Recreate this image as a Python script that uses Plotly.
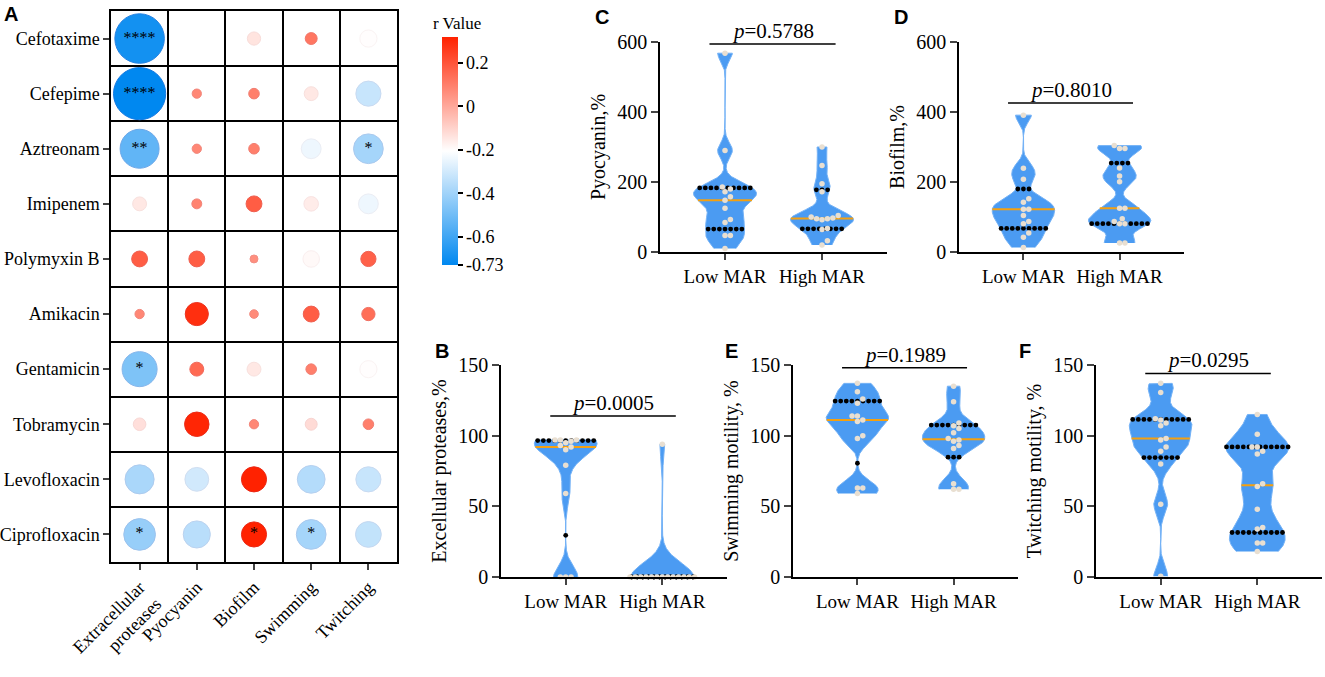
import numpy as np
import plotly.graph_objects as go

# ---------------------------------------------------------
# Panel A: correlation between antibiotics and virulence traits
# ---------------------------------------------------------
antibiotics = ["Cefotaxime", "Cefepime", "Aztreonam", "Imipenem", "Polymyxin B",
               "Amikacin", "Gentamicin", "Tobramycin", "Levofloxacin", "Ciprofloxacin"]
traits = ["Extracellular<br>proteases", "Pyocyanin", "Biofilm", "Swimming", "Twitching"]

# r values, one row per antibiotic (None = no value)
r_values = [
    [-0.69, None, -0.14, 0.12, -0.20],
    [-0.73, 0.08, 0.10, -0.15, -0.32],
    [-0.53, 0.08, 0.10, -0.24, -0.39],
    [-0.15, 0.09, 0.18, -0.16, -0.24],
    [0.18, 0.18, 0.06, -0.19, 0.17],
    [0.08, 0.29, 0.07, 0.18, 0.14],
    [-0.47, 0.15, -0.15, 0.10, -0.20],
    [-0.13, 0.31, 0.08, -0.12, 0.10],
    [-0.38, -0.30, 0.32, -0.36, -0.32],
    [-0.42, -0.35, 0.32, -0.39, -0.33],
]
stars = [
    ["****", "", "", "", ""],
    ["****", "", "", "", ""],
    ["**", "", "", "", "*"],
    ["", "", "", "", ""],
    ["", "", "", "", ""],
    ["", "", "", "", ""],
    ["*", "", "", "", ""],
    ["", "", "", "", ""],
    ["", "", "", "", ""],
    ["*", "", "*", "*", ""],
]
cbar_ticks = [0.2, 0, -0.2, -0.4, -0.6, -0.73]

# ---------------------------------------------------------
# Panels B-F: Low MAR vs High MAR isolates
# ---------------------------------------------------------
groups = ["Low MAR", "High MAR"]

proteases_low = [0, 0, 0, 59, 79, 90, 92, 93, 95, 96, 97, 97, 97]
proteases_high = [0, 0, 0, 0, 0, 0, 0, 0, 0, 0, 0, 0, 0, 94]
pyocyanin_low = [10, 47, 47, 84, 93, 125, 148, 158, 172, 180, 186, 290, 568]
pyocyanin_high = [20, 32, 64, 67, 92, 95, 95, 97, 100, 104, 172, 195, 247, 300]
biofilm_low = [13, 42, 54, 81, 87, 104, 122, 122, 142, 152, 208, 239, 391]
biofilm_high = [26, 26, 81, 81, 87, 95, 125, 125, 201, 217, 240, 296, 296, 304]
swimming_low = [59, 63, 63, 98, 100, 110, 111, 114, 114, 123, 126, 131, 137]
swimming_high = [62, 62, 66, 91, 93, 96, 97, 98, 102, 105, 107, 109, 124, 135]
twitching_low = [0.5, 51.5, 80, 89, 92, 97, 98, 107, 109, 111, 112, 130.5, 137]
twitching_high = [18, 24, 24, 34, 35, 48, 64, 66, 87, 89, 92, 92, 101, 115]

p_values = {"B": "0.0005", "C": "0.5788", "D": "0.8010", "E": "0.1989", "F": "0.0295"}

# ---------------------------------------------------------
# layout / style
# ---------------------------------------------------------
W, H = 1325, 677
SERIF = "Liberation Serif"
VIOLIN_FILL = "#4b9bf2"
VIOLIN_LINE = "#74b2f6"
HALF = 0.325          # max half width of a violin (x units)
DOT_STEP = 0.058      # spacing of quartile dots (x units)

panels = [
    dict(key="C", low=pyocyanin_low, high=pyocyanin_high, title="Pyocyanin,%",
         x=(660, 887), y=(42, 252), ymax=600, dtick=200, bw=(22, 22), bracket=594, letter=(593, 4)),
    dict(key="D", low=biofilm_low, high=biofilm_high, title="Biofilm,%",
         x=(959, 1184), y=(42, 252), ymax=600, dtick=200, bw=(20, 20), bracket=426, letter=(892, 4)),
    dict(key="B", low=proteases_low, high=proteases_high, title="Excellular proteases,%",
         x=(501, 727), y=(365, 577), ymax=150, dtick=50, bw=(8, 10), bracket=114, letter=(433, 338)),
    dict(key="E", low=swimming_low, high=swimming_high, title="Swimming motility, %",
         x=(793, 1018), y=(365, 577), ymax=150, dtick=50, bw=(6, 6), bracket=148, letter=(723, 338)),
    dict(key="F", low=twitching_low, high=twitching_high, title="Twitching motility, %",
         x=(1096, 1322), y=(365, 577), ymax=150, dtick=50, bw=(7, 9), bracket=144, letter=(1017, 338)),
]


def xdom(a, b):
    return [a / W, b / W]


def ydom(top, bottom):
    return [1 - bottom / H, 1 - top / H]


def kde(vals, grid, bw):
    z = (grid[:, None] - vals[None, :]) / bw
    return np.exp(-0.5 * z * z).sum(axis=1)


def swarm(vals, ypx, xpx=97.0, d=5.4):
    offs = np.zeros(len(vals))
    placed = []
    cands = [0.0] + [s * k * d / 2 for k in range(1, 40) for s in (1, -1)]
    for i in np.argsort(vals, kind="stable"):
        y = vals[i] * ypx
        for cx in cands:
            if all((cx - px) ** 2 + (y - py) ** 2 >= d * d * 0.97 for px, py in placed):
                break
        placed.append((cx, y))
        offs[i] = cx / xpx
    return offs


fig = go.Figure()

# ---------------- panel A traces ----------------
xs, ys, cs, sz, tx = [], [], [], [], []
for i, row in enumerate(r_values):
    for j, r in enumerate(row):
        if r is None:
            continue
        xs.append(j)
        ys.append(i)
        cs.append(r)
        sz.append(4 + 66 * abs(r))
        tx.append(stars[i][j])

rmin, rmax = min(cs), max(cs)
scale = [[0, "rgb(0,136,240)"], [0.5, "rgb(255,255,255)"], [1, "rgb(255,34,0)"]]
edge_scale = [[0, "rgb(20,120,225)"], [0.5, "rgb(250,245,245)"], [1, "rgb(235,40,20)"]]

fig.add_trace(go.Scatter(
    x=xs, y=ys, mode="markers", hoverinfo="skip", showlegend=False,
    marker=dict(size=sz, color=cs, colorscale=scale, cmin=rmin, cmax=rmax, opacity=1,
                line=dict(width=1, color=cs, colorscale=edge_scale, cmin=rmin, cmax=rmax),
                showscale=True,
                colorbar=dict(x=442 / W, xanchor="left", xpad=0, y=1 - 37 / H, yanchor="top", ypad=0,
                              len=228 / H, thickness=16, outlinewidth=0,
                              ticks="outside", ticklen=5, tickwidth=1.5, tickcolor="black",
                              tickvals=cbar_ticks, ticktext=[str(t) for t in cbar_ticks],
                              tickfont=dict(family=SERIF, size=18, color="black"))),
))
fig.add_trace(go.Scatter(
    x=xs, y=ys, mode="text", text=tx, hoverinfo="skip", showlegend=False,
    textposition="middle center", textfont=dict(family=SERIF, size=16, color="black"),
))

# ---------------- violin panels ----------------
layout_axes = {}
annotations = []
shapes = []
for k, p in enumerate(panels, start=2):
    xa, ya = f"x{k}", f"y{k}"
    ypx = (p["y"][1] - p["y"][0]) / p["ymax"]
    for c, (vals, bw) in enumerate(zip([p["low"], p["high"]], p["bw"])):
        vals = np.asarray(vals, float)
        grid = np.linspace(vals.min(), vals.max(), 400)
        dens = kde(vals, grid, bw)
        w = HALF * dens / dens.max()
        fig.add_trace(go.Scatter(
            x=np.concatenate([c + w, (c - w)[::-1]]), y=np.concatenate([grid, grid[::-1]]),
            fill="toself", fillcolor=VIOLIN_FILL, mode="lines",
            line=dict(color=VIOLIN_LINE, width=1), xaxis=xa, yaxis=ya,
            hoverinfo="skip", showlegend=False))
        q1, med, q3 = np.percentile(vals, [25, 50, 75], method="weibull")
        for q in (q1, q3):
            wq = np.interp(q, grid, w)
            n = int(2 * wq / DOT_STEP) + 1
            dx = (np.arange(n) - (n - 1) / 2) * DOT_STEP
            fig.add_trace(go.Scatter(
                x=c + dx, y=np.full(n, q), mode="markers", xaxis=xa, yaxis=ya, cliponaxis=False,
                marker=dict(size=4.8, color="black"), hoverinfo="skip", showlegend=False))
        wm = np.interp(med, grid, w)
        fig.add_trace(go.Scatter(
            x=[c - wm, c + wm], y=[med, med], mode="lines", xaxis=xa, yaxis=ya,
            line=dict(color="#f5a00f", width=2), hoverinfo="skip", showlegend=False))
        fig.add_trace(go.Scatter(
            x=c + swarm(vals, ypx), y=vals, mode="markers", xaxis=xa, yaxis=ya, cliponaxis=False,
            marker=dict(size=5.5, color="#e9dfd1"), hoverinfo="skip", showlegend=False))

    layout_axes[f"xaxis{k}"] = dict(
        domain=xdom(*p["x"]), anchor=ya, range=[-0.67, 1.67], automargin=False,
        tickvals=[0, 1], ticktext=groups, ticks="outside", ticklen=6, tickwidth=1.5,
        showline=True, linecolor="black", linewidth=1.5, showgrid=False, zeroline=False,
        tickfont=dict(family=SERIF, size=19, color="black"))
    layout_axes[f"yaxis{k}"] = dict(
        domain=ydom(*p["y"]), anchor=xa, range=[0, p["ymax"]], dtick=p["dtick"], tick0=0,
        automargin=False,
        ticks="outside", ticklen=7, tickwidth=1.5, showline=True, linecolor="black",
        linewidth=1.5, showgrid=False, zeroline=False,
        tickfont=dict(family=SERIF, size=20, color="black"),
        title=dict(text=p["title"], standoff=6, font=dict(family=SERIF, size=20, color="black")))

    shapes.append(dict(type="line", xref=xa, yref=ya, x0=-0.16, x1=1.14,
                       y0=p["bracket"], y1=p["bracket"], line=dict(color="black", width=1.5)))
    annotations.append(dict(xref=xa, yref=ya, x=0.49, y=p["bracket"], yanchor="bottom",
                            text=f"<i>p</i>={p_values[p['key']]}", showarrow=False, yshift=-1,
                            font=dict(family=SERIF, size=21, color="black")))
    annotations.append(dict(xref="paper", yref="paper", x=p["letter"][0] / W, y=1 - p["letter"][1] / H,
                            xanchor="left", yanchor="top", text=f"<b>{p['key']}</b>", showarrow=False,
                            font=dict(family="Liberation Sans", size=20, color="black")))

annotations.append(dict(xref="paper", yref="paper", x=2 / W, y=1 - 1 / H, xanchor="left", yanchor="top",
                        text="<b>A</b>", showarrow=False,
                        font=dict(family="Liberation Sans", size=20, color="black")))
annotations.append(dict(xref="paper", yref="paper", x=431 / W, y=1 - 35 / H, xanchor="left", yanchor="bottom",
                        text="r Value", showarrow=False,
                        font=dict(family=SERIF, size=17, color="black")))

n_c, n_r = len(traits), len(antibiotics)
fig.update_layout(
    width=W, height=H, margin=dict(l=0, r=0, t=0, b=0, autoexpand=False),
    paper_bgcolor="white", plot_bgcolor="white",
    font=dict(family=SERIF, color="black"),
    xaxis=dict(domain=xdom(111, 397), anchor="y", range=[-0.5, n_c - 0.5], automargin=False,
               tickvals=list(range(n_c)), ticktext=traits, tickangle=-45,
               ticks="outside", ticklen=6, tickwidth=1.5, showline=True, mirror=True,
               linecolor="black", linewidth=1.5, showgrid=False, zeroline=False,
               minor=dict(tickmode="array", tickvals=[i + 0.5 for i in range(n_c - 1)],
                          showgrid=True, gridcolor="black", gridwidth=1.5, ticks=""),
               tickfont=dict(family=SERIF, size=18, color="black")),
    yaxis=dict(domain=ydom(11, 562), anchor="x", range=[n_r - 0.5, -0.5], automargin=False,
               tickvals=list(range(n_r)), ticktext=antibiotics,
               ticks="outside", ticklen=6, tickwidth=1.5, showline=True, mirror=True,
               linecolor="black", linewidth=1.5, showgrid=False, zeroline=False,
               minor=dict(tickmode="array", tickvals=[i + 0.5 for i in range(n_r - 1)],
                          showgrid=True, gridcolor="black", gridwidth=1.5, ticks=""),
               tickfont=dict(family=SERIF, size=18, color="black")),
    shapes=shapes, annotations=annotations,
    **layout_axes,
)

# the page body has a default 8px margin; remove it so the figure sits at the window origin
fig.write_html("out.html", config={"displayModeBar": False},
               post_script="document.body.style.margin='0';")
